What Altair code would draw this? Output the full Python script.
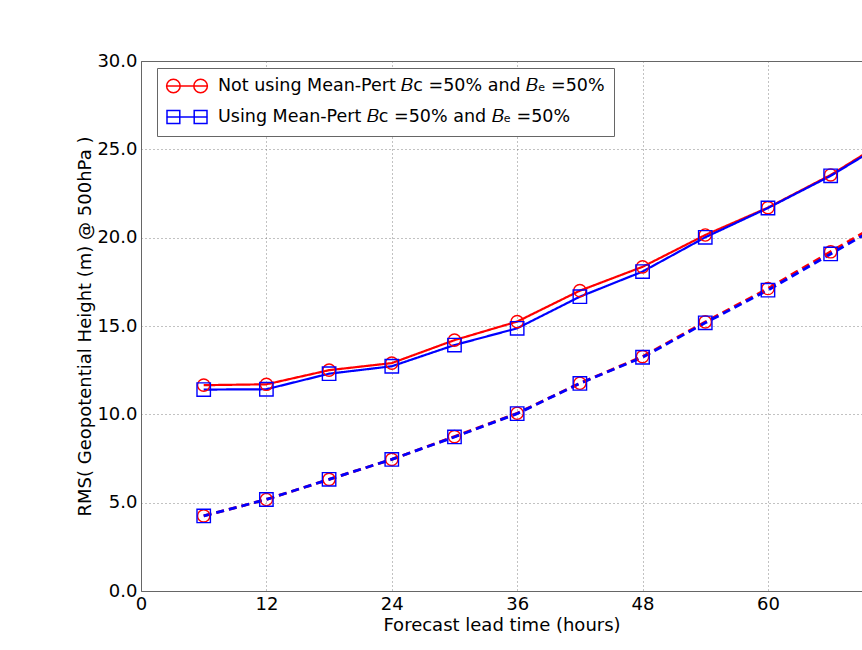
import altair as alt
import pandas as pd

hours = [6, 12, 18, 24, 30, 36, 42, 48, 54, 60, 66, 72]
not_using_solid = [11.65, 11.7, 12.5, 12.9, 14.2, 15.25, 17.0, 18.35, 20.15, 21.7, 23.55, 25.75]
using_solid = [11.4, 11.42, 12.3, 12.72, 13.92, 14.87, 16.66, 18.08, 20.02, 21.68, 23.5, 25.65]
not_using_dashed = [4.25, 5.18, 6.32, 7.45, 8.74, 10.06, 11.76, 13.27, 15.23, 17.12, 19.2, 21.25]
using_dashed = [4.25, 5.18, 6.32, 7.45, 8.72, 10.04, 11.75, 13.23, 15.18, 17.03, 19.08, 21.1]

series_names = [
    "Not using Mean-Pert 𝐵ᴄ =50% and 𝐵ₑ =50%",
    "Using Mean-Pert 𝐵ᴄ =50% and 𝐵ₑ =50%",
]
x_ticks = [0, 12, 24, 36, 48, 60]
y_ticks = [0, 5, 10, 15, 20, 25, 30]

rows = []
for h, a, b, c, d in zip(hours, not_using_solid, using_solid, not_using_dashed, using_dashed):
    rows.append({"hour": h, "value": a, "series": series_names[0], "kind": "solid"})
    rows.append({"hour": h, "value": b, "series": series_names[1], "kind": "solid"})
    rows.append({"hour": h, "value": c, "series": series_names[0], "kind": "dashed"})
    rows.append({"hour": h, "value": d, "series": series_names[1], "kind": "dashed"})
df = pd.DataFrame(rows)

FONT = "DejaVu Sans"
RED = "#ff0000"
BLUE = "#0000ff"
FS = 18

xscale = alt.Scale(domain=[0, 69.0], nice=False, zero=False)
yscale = alt.Scale(domain=[0, 30], nice=False)

xaxis = alt.Axis(values=x_ticks, title="Forecast lead time (hours)", labelFontSize=FS,
                 titleFontSize=FS, titleFontWeight="normal", labelFont=FONT, titleFont=FONT,
                 labelColor="black", titleColor="black", grid=True, gridDash=[1, 3],
                 gridColor="#666", gridWidth=0.8, domainColor="#666", domainWidth=1,
                 ticks=False, labelPadding=4, titlePadding=3, labelFlush=False)
yaxis = alt.Axis(values=y_ticks, format=".1f", title="RMS( Geopotential Height (m) @ 500hPa )",
                 labelFontSize=FS, titleFontSize=FS, titleFontWeight="normal", labelFont=FONT,
                 titleFont=FONT, labelColor="black", titleColor="black", grid=True,
                 gridDash=[1, 3], gridColor="#666", gridWidth=0.8, domainColor="#666",
                 domainWidth=1, ticks=False, labelPadding=4, titlePadding=2, labelFlush=False)

base = alt.Chart(df)

def line_layer(series_idx, kind, color):
    dash = [1, 0] if kind == "solid" else [8, 5]
    width = 2.2 if kind == "solid" else 2.8
    return base.transform_filter(
        (alt.datum.series == series_names[series_idx]) & (alt.datum.kind == kind)
    ).mark_line(clip=True, color=color, strokeWidth=width, strokeDash=dash).encode(
        x=alt.X("hour:Q", scale=xscale, axis=xaxis),
        y=alt.Y("value:Q", scale=yscale, axis=yaxis),
    )

def point_layer(series_idx, shape, color, size):
    return base.transform_filter(
        alt.datum.series == series_names[series_idx]
    ).mark_point(clip=True, shape=shape, color=color, filled=False, size=size,
                 strokeWidth=1.4, opacity=1).encode(
        x=alt.X("hour:Q", scale=xscale, axis=xaxis),
        y=alt.Y("value:Q", scale=yscale, axis=yaxis),
    )

circ = ("M-2.6,0 L2.6,0 "
        "M-2.55,0 A0.85,0.85 0 1,1 -0.85,0 A0.85,0.85 0 1,1 -2.55,0 "
        "M0.85,0 A0.85,0.85 0 1,1 2.55,0 A0.85,0.85 0 1,1 0.85,0")
sq = ("M-2.6,0 L2.6,0 "
      "M-2.5,-0.8 L-0.9,-0.8 L-0.9,0.8 L-2.5,0.8 Z "
      "M0.9,-0.8 L2.5,-0.8 L2.5,0.8 L0.9,0.8 Z")

legend_layer = base.transform_filter("false").mark_point(filled=False, opacity=1, strokeWidth=1.5).encode(
    x=alt.X("hour:Q", scale=xscale,
            axis=alt.Axis(orient="top", labels=False, ticks=False, grid=False, title=None,
                          domainColor="#666", domainWidth=1)),
    color=alt.Color("series:N", scale=alt.Scale(domain=series_names, range=[RED, BLUE]),
                    legend=alt.Legend(title=None, orient="none", legendX=16, legendY=7,
                                      direction="vertical", labelFont=FONT, labelFontSize=17.5,
                                      labelColor="black", labelLimit=700, symbolSize=256,
                                      symbolStrokeWidth=1.5, symbolOffset=12, labelOffset=22,
                                      padding=9, rowPadding=11, strokeColor="#666",
                                      fillColor="white", cornerRadius=0)),
    shape=alt.Shape("series:N", scale=alt.Scale(domain=series_names, range=[circ, sq])),
)

data_layers = alt.layer(
    line_layer(0, "solid", RED),
    line_layer(1, "solid", BLUE),
    line_layer(0, "dashed", RED),
    line_layer(1, "dashed", BLUE),
    point_layer(0, "circle", RED, 150),
    point_layer(1, "square", BLUE, 180),
)

chart = alt.layer(data_layers, legend_layer).resolve_axis(x="independent").properties(
    width=721, height=530,
    autosize=alt.AutoSizeParams(type="none"),
    padding={"left": 141, "top": 61, "right": 0, "bottom": 59},
).configure_view(stroke=None).configure(background="white")

chart.save("out.html", embed_options={"renderer": "svg", "actions": False})
